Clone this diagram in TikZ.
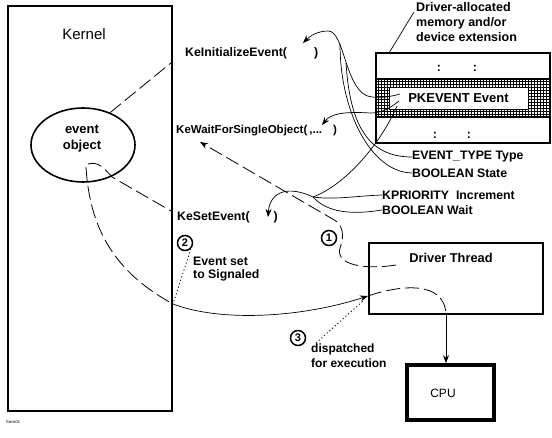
\documentclass[tikz,border=0pt]{standalone}
\usepackage{fontspec}
\setmainfont{Liberation Sans}
\usepackage{tikz}
\usetikzlibrary{positioning}
\usetikzlibrary{shapes.geometric}
\usetikzlibrary{arrows.meta,patterns,calc}

\tikzset{
  txt/.style={font=\bfseries\fontsize{12.3}{13}\selectfont, inner sep=0pt},
  bx/.style={draw, line width=1.8pt, inner sep=0pt},
  dashline/.style={line width=0.8pt, dash pattern=on 14pt off 5pt},
  dotline/.style={line width=0.8pt, dash pattern=on 1.2pt off 2.4pt},
  fline/.style={line width=0.7pt},
  arrw/.style={-{Stealth[length=8pt,width=6pt]}},
  num/.style={draw, circle, line width=1.5pt, inner sep=0.5pt, minimum size=15pt, font=\bfseries\fontsize{11}{11}\selectfont}
}

\begin{document}
\begin{tikzpicture}[x=1pt,y=-1pt]
 \useasboundingbox (0,0) rectangle (552,438);

 %kernel
 \node[bx, minimum width=164pt, minimum height=405pt] (kernel) at (90,208.5) {};
 \node[font=\fontsize{15}{15}\selectfont] (kernlbl) at (84,34) {Kernel};
 \node[ellipse, draw, line width=1.6pt, minimum width=104pt, minimum height=74pt] (evt) at (83,145) {};
 \node[txt, align=center, font=\bfseries\fontsize{13}{16}\selectfont] (evtlbl) at (82,139) {event\\object};

 %calls
 \node[txt, anchor=west] (kinit) at (185,53) {KeInitializeEvent(\hspace{27pt})};
 \node[txt, anchor=west, font=\bfseries\fontsize{11.5}{13}\selectfont] (kwait) at (176,131) {KeWaitForSingleObject(\hspace{2pt},...\hspace{11pt})};
 \node[txt, anchor=west] (kset) at (177,217) {KeSetEvent(\hspace{24pt})};

 %driver memory
 \node[txt, anchor=west, align=left, font=\bfseries\fontsize{12.5}{15}\selectfont] (dalloc) at (416,22) {Driver-allocated\\memory and/or\\device extension};
 \fill[pattern=grid] (376,79) rectangle (550,117);
 \node[bx, minimum width=174pt, minimum height=90pt] (struct) at (463,98) {};
 \draw[line width=1.8pt] (376,79) -- (550,79) (376,117) -- (550,117);
 \node[txt, draw, fill=white, line width=0.8pt, minimum width=139pt, minimum height=22pt, font=\bfseries\fontsize{13}{13}\selectfont] (pkev) at (458.5,98) {PKEVENT Event};
 \foreach \x/\y in {439/68, 475/68, 435/135, 469/135}
   \node[txt] (col\x) at (\x,\y) {:};

 \node[txt, anchor=west] (etype) at (412,157) {EVENT\_TYPE Type};
 \node[txt, anchor=west] (bstate) at (412,173) {BOOLEAN State};
 \node[txt, anchor=west] (kprio) at (382,195) {KPRIORITY\ \ Increment};
 \node[txt, anchor=west] (bwait) at (382,210) {BOOLEAN Wait};

 %thread and cpu
 \node[bx, minimum width=174pt, minimum height=71pt] (drvthr) at (456,278.5) {};
 \node[txt, font=\bfseries\fontsize{12.8}{13}\selectfont] (dtlbl) at (451,258) {Driver Thread};
 \node[draw, line width=3.6pt, minimum width=87pt, minimum height=55pt, inner sep=0pt] (cpu) at (450.5,392.5) {};
 \node[font=\fontsize{12}{12}\selectfont] (cpulbl) at (443,393) {CPU};

 %steps
 \node[num] (c1) at (329,238) {1};
 \node[num] (c2) at (185,243) {2};
 \node[num] (c3) at (298,338) {3};
 \node[txt, anchor=west, align=left, font=\bfseries\fontsize{12.3}{13}\selectfont] (evset) at (193,269) {Event set\\to Signaled};
 \node[txt, anchor=west, align=left, font=\bfseries\fontsize{12}{15}\selectfont] (disp) at (311,356) {dispatched\\for execution};

 \node[font=\fontsize{4}{4}\selectfont] (figid) at (13,422) {Genk01};

 % points
 \coordinate (kinitend) at (172,62);
 \coordinate (ksetin) at (88,164);
 \coordinate (ksetend) at (171,211);
 \coordinate (flowin) at (86,167);
 \coordinate (sigpt) at (173,304);
 \coordinate (dthit) at (368,296);
 \coordinate (dtbot) at ($(drvthr.south)+(-10,0)$);
 \coordinate (dtfrom) at (396,265);
 \coordinate (kwaittip) at (200,142);
 \coordinate (dispfrom) at (316,343);
 \coordinate (dafrom) at (414,12);
 \coordinate (dato) at (389,53);
 \coordinate (kinittip) at (303,43);
 \coordinate (kwtip) at (322,125);
 \coordinate (ksettip) at (268,217);
 \coordinate (j3) at (313,197);

 % lines
 \draw[dashline] (evt.50) -- (kinitend);
 \draw[dashline] (ksetin) .. controls (98,161) and (104,168) .. (112,177) -- (ksetend);
 \draw[dashline] (flowin) .. controls (90,235) and (120,275) .. (sigpt);
 \draw[fline, arrw] (sigpt) .. controls (220,322) and (300,318) .. (dthit);
 \draw[dashline] (dthit) .. controls (400,285) and (445,280) .. (dtbot);
 \draw[fline, arrw] (dtbot) -- (dtbot |- cpu.north);
 \draw[dashline, arrw] (dtfrom) .. controls (365,270) and (335,265) .. (340,248) .. controls (345,235) and (342,226) .. (336,221) -- (kwaittip);
 \draw[dotline] (c2.-45) -- (sigpt);
 \draw[dotline] (dispfrom) -- ($(dthit)+(-5,5)$);
 \draw[fline] (dafrom) -- (dato);

 \draw[fline, arrw] (400,94) .. controls (390,97) and (380,98) .. (372,97) .. controls (345,95) and (345,30) .. (328,31) .. controls (318,31) and (310,36) .. (kinittip);
 \draw[fline] (346,63) .. controls (350,125) and (368,157) .. (etype.west);
 \draw[fline] (340,44) .. controls (340,110) and (370,172) .. (bstate.west);
 \draw[fline, arrw] (399,101) .. controls (388,110) and (380,113) .. (370,113) .. controls (340,111) and (330,115) .. (kwtip);
 \draw[fline] (397,106) .. controls (380,145) and (345,185) .. (j3);
 \draw[fline, arrw] (j3) .. controls (290,186) and (270,190) .. (ksettip);
 \draw[fline] (j3) .. controls (335,200) and (355,196) .. (kprio.west);
 \draw[fline] (j3) .. controls (325,210) and (345,216) .. (bwait.west);

\end{tikzpicture}
\end{document}
